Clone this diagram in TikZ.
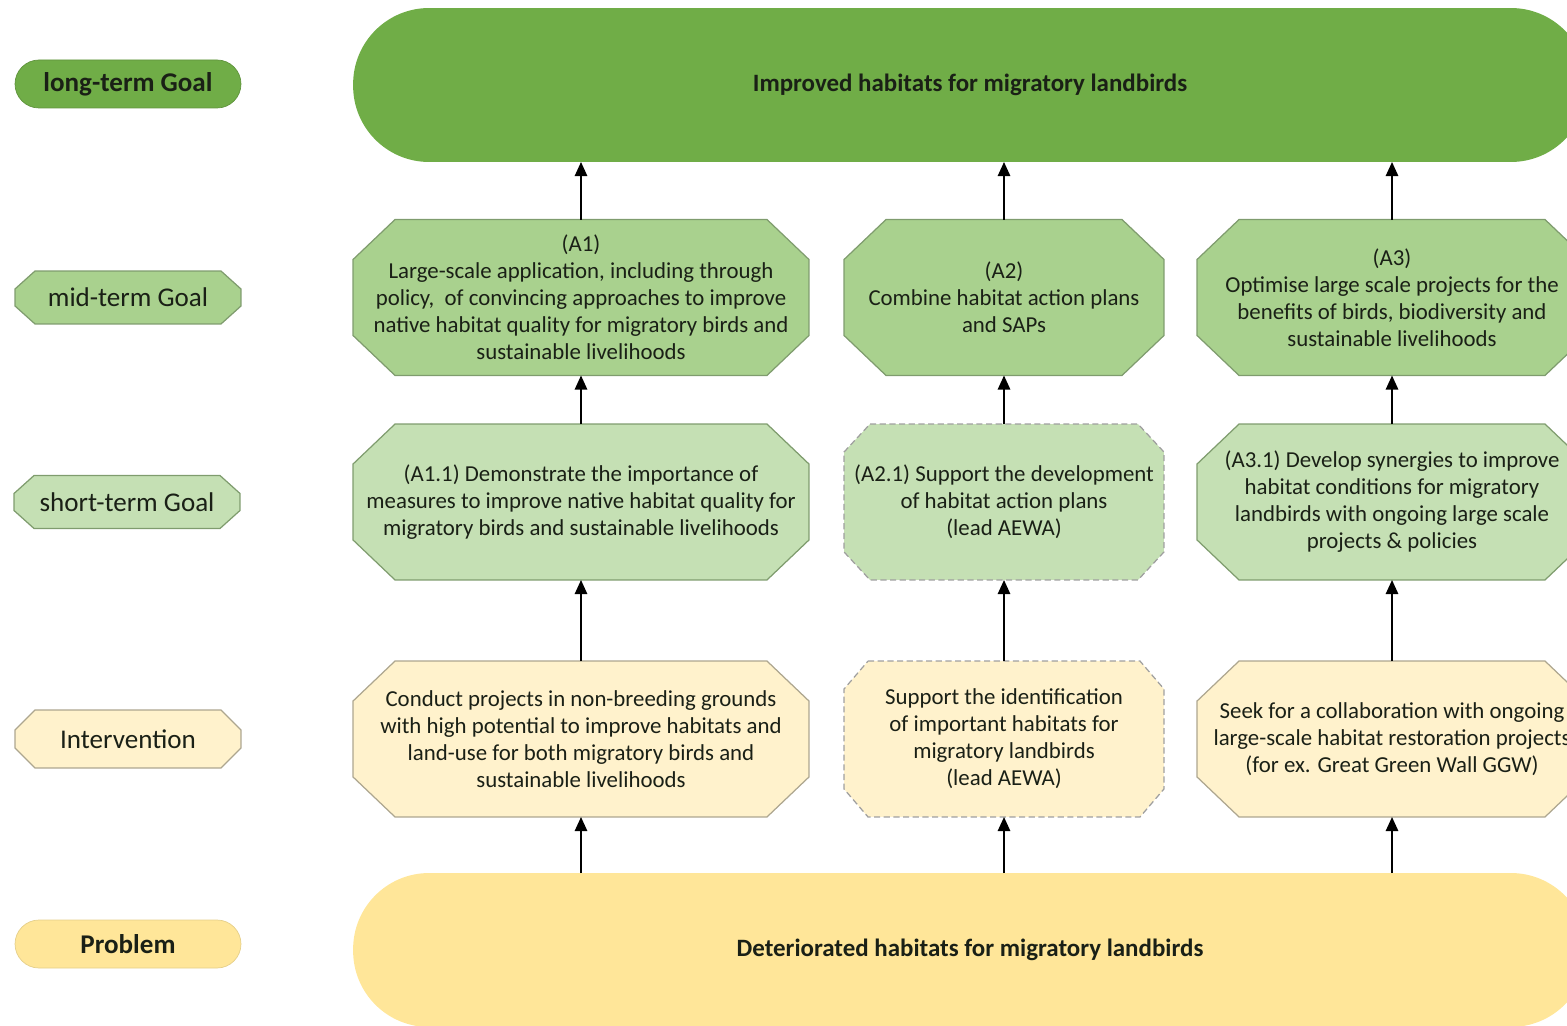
\documentclass[tikz,border=0pt]{standalone}
\usepackage{fontspec}
\setmainfont{Carlito}
\usetikzlibrary{calc,backgrounds,arrows.meta}

\definecolor{longgreen}{HTML}{70AD47}
\definecolor{midgreen}{HTML}{A9D18E}
\definecolor{shortgreen}{HTML}{C5E0B4}
\definecolor{intyellow}{HTML}{FFF2CC}
\definecolor{probyellow}{HTML}{FFE699}
\definecolor{greenline}{HTML}{7F9C6E}
\definecolor{sandline}{HTML}{ADA68F}
\definecolor{ink}{HTML}{1A2016}

% octagon drawn round a named node: [style]{node}{chamfer x}{chamfer y}
\newcommand\octo[4][]{%
  \draw[#1] ($(#2.north west)+(#3,0)$) -- ($(#2.north east)+(-#3,0)$)
    -- ($(#2.north east)+(0,#4)$) -- ($(#2.south east)+(0,-#4)$)
    -- ($(#2.south east)+(-#3,0)$) -- ($(#2.south west)+(#3,0)$)
    -- ($(#2.south west)+(0,-#4)$) -- ($(#2.north west)+(0,#4)$) -- cycle;}

\tikzset{
  txt/.style={rectangle, outer sep=0pt, inner sep=0pt, align=center, text=ink,
    font=\fontsize{13}{15.4}\selectfont},
  wide/.style={txt, rounded corners=1.52cm, minimum width=24.68cm,
    minimum height=3.08cm, font=\fontsize{14.2}{16}\selectfont\bfseries},
  octa/.style={txt, minimum height=3.12cm},
  col1/.style={minimum width=9.12cm},
  col2/.style={minimum width=6.4cm},
  col3/.style={minimum width=7.8cm},
  key/.style={txt, minimum width=4.52cm, font=\fontsize{15.4}{17}\selectfont},
  keyround/.style={key, rounded corners=0.48cm, minimum height=0.96cm},
  up/.style={-{Triangle[width=7pt,length=8pt]}, line width=1.1pt, black},
  midfill/.style={fill=midgreen, draw=greenline, line width=0.7pt},
  shortfill/.style={fill=shortgreen, draw=greenline, line width=0.7pt},
  intfill/.style={fill=intyellow, draw=sandline, line width=0.7pt},
  dashes/.style={draw=gray!75, dash pattern=on 3.5pt off 2pt}
}

\begin{document}
\begin{tikzpicture}[x=0.02cm, y=-0.02cm]
  \useasboundingbox (0,0) rectangle (1567,1026);

  % legend
  \node[keyround, fill=longgreen, draw=longgreen!85!black, font=\fontsize{15.4}{17}\selectfont\bfseries] (klong) at (128,84) {long-term Goal};
  \node[key, minimum height=1.06cm] (kmid) at (128,297.5) {mid-term Goal};
  \node[key, minimum height=1.06cm] (kshort) at (127,502) {short-term Goal};
  \node[key, minimum height=1.16cm] (kint) at (128,739) {Intervention};
  \node[keyround, fill=probyellow, draw=probyellow!90!black, font=\fontsize{15.4}{17}\selectfont\bfseries] (kprob) at (128,944) {Problem};

  % goal and problem
  \node[wide, fill=longgreen] (goal) at (970,85) {Improved habitats for migratory landbirds};
  \node[wide, fill=probyellow] (prob) at (970,950) {Deteriorated habitats for migratory landbirds};

  % mid-term
  \node[octa, col1] (m1) at (581,297.5) {(A1)\\Large-scale application, including through\\policy,\ \ of convincing approaches to improve\\native habitat quality for migratory birds and\\sustainable livelihoods};
  \node[octa, col2] (m2) at (1004,297.5) {(A2)\\Combine habitat action plans\\and SAPs};
  \node[octa, col3] (m3) at (1392,297.5) {(A3)\\Optimise large scale projects for the\\benefits of birds, biodiversity and\\sustainable livelihoods};

  % short-term
  \node[octa, col1] (s1) at (581,502) {(A1.1) Demonstrate the importance of\\measures to improve native habitat quality for\\migratory birds and sustainable livelihoods};
  \node[octa, col2] (s2) at (1004,502) {(A2.1) Support the development\\of habitat action plans\\(lead AEWA)};
  \node[octa, col3] (s3) at (1392,502) {(A3.1) Develop synergies to improve\\habitat conditions for migratory\\landbirds with ongoing large scale\\projects \& policies};

  % interventions
  \node[octa, col1] (i1) at (581,739) {Conduct projects in non-breeding grounds\\with high potential to improve habitats and\\land-use for both migratory birds and\\sustainable livelihoods};
  \node[octa, col2] (i2) at (1004,739) {Support the identification\\of important habitats for\\migratory landbirds\\(lead AEWA)};
  \node[octa, col3] (i3) at (1392,739) {Seek for a collaboration with ongoing\\large-scale habitat restoration projects\\(for ex. Great Green Wall GGW)};

  \begin{scope}[on background layer]
    \octo[midfill]{kmid}{20}{18}
    \octo[shortfill]{kshort}{20}{18}
    \octo[intfill]{kint}{20}{20}
    \octo[midfill]{m1}{42}{40}
    \octo[midfill]{m2}{42}{40}
    \octo[midfill]{m3}{42}{40}
    \octo[shortfill]{s1}{42}{40}
    \octo[shortfill, dashes]{s2}{26}{28}
    \octo[shortfill]{s3}{42}{40}
    \octo[intfill]{i1}{42}{40}
    \octo[intfill, dashes]{i2}{24}{28}
    \octo[intfill]{i3}{42}{40}
  \end{scope}

  \foreach \c in {1,2,3} {
    \draw[up] (prob.north -| i\c) -- (i\c);
    \draw[up] (i\c) -- (s\c);
    \draw[up] (s\c) -- (m\c);
    \draw[up] (m\c) -- (goal.south -| m\c);
  }
\end{tikzpicture}
\end{document}
